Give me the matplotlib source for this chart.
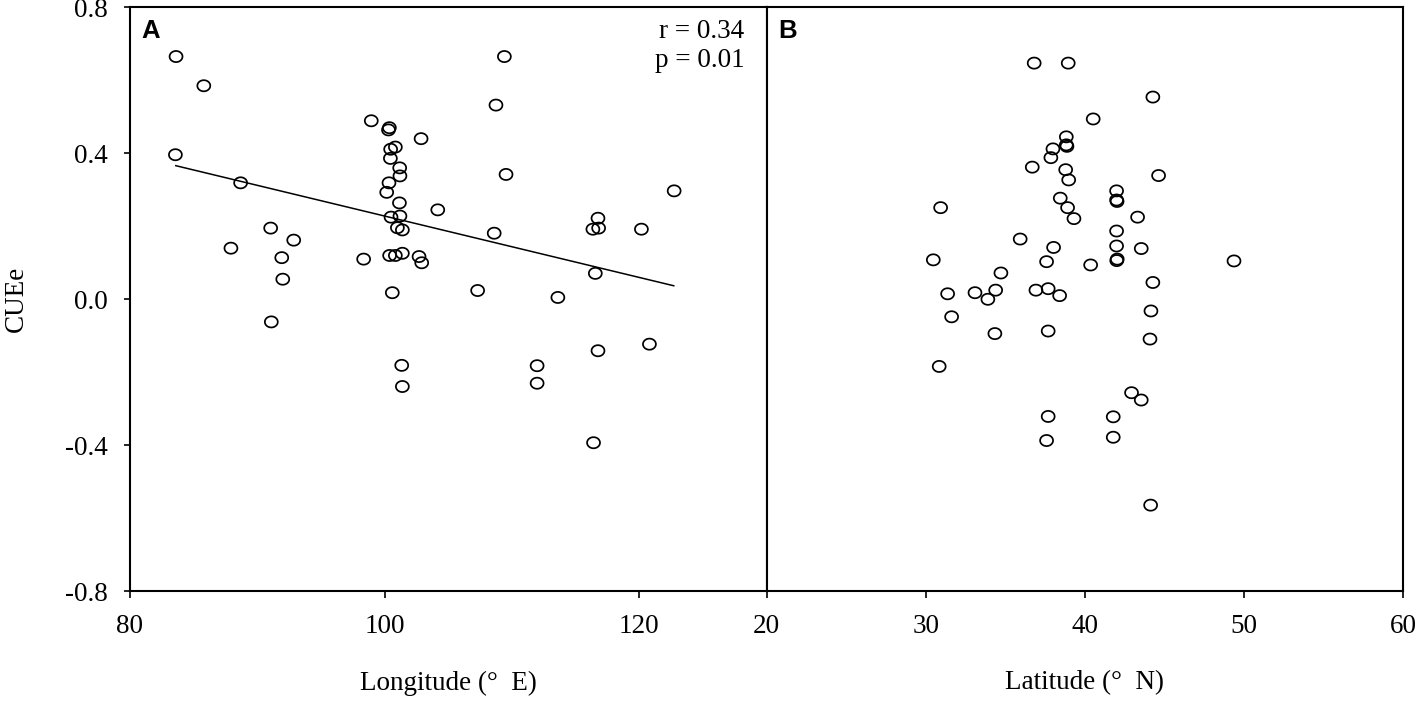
import matplotlib.pyplot as plt
import matplotlib.path as mpath
import numpy as np

# panel A: longitude vs CUEe
lon = [83.62, 85.8, 83.57, 98.95, 100.37, 100.30, 102.86, 100.84, 100.47, 100.45,
       101.18, 101.2, 88.69, 100.34, 100.16, 101.16, 104.17, 100.5, 101.2, 101.0,
       101.39, 91.05, 92.86, 87.93, 91.92, 98.35, 100.39, 100.84, 101.39, 102.7,
       102.91, 92.0, 100.6, 91.1, 101.34, 101.39, 109.4, 108.74, 109.53, 122.73,
       116.75, 116.35, 116.8, 120.16, 108.6, 116.54, 107.3, 113.6, 120.79, 116.75,
       111.97, 111.97, 116.4]
cue_lon = [0.665, 0.585, 0.396, 0.489, 0.470, 0.464, 0.44, 0.417, 0.411, 0.386,
           0.36, 0.338, 0.319, 0.319, 0.293, 0.264, 0.245, 0.225, 0.228, 0.196,
           0.19, 0.195, 0.162, 0.14, 0.114, 0.11, 0.12, 0.12, 0.126, 0.117,
           0.1, 0.055, 0.018, -0.062, -0.181, -0.239, 0.665, 0.532, 0.342, 0.297,
           0.222, 0.192, 0.195, 0.192, 0.181, 0.071, 0.024, 0.005, -0.123, -0.141,
           -0.182, -0.23, -0.393]
fit_lon = [83.6, 122.7]
fit_cue = [0.366, 0.037]

# panel B: latitude vs CUEe
lat = [36.81, 38.95, 44.27, 40.52, 38.83, 38.83, 38.87, 37.99, 37.86, 36.69,
       38.79, 38.98, 44.63, 41.99, 41.99, 42.02, 38.45, 30.93, 38.91, 39.31,
       43.31, 41.99, 35.93, 38.03, 41.99, 43.54, 30.47, 37.59, 42.03, 42.00,
       40.36, 34.72, 44.27, 31.37, 33.09, 34.39, 33.90, 36.92, 37.69, 38.41,
       44.15, 31.62, 34.34, 37.69, 44.09, 30.84, 42.93, 43.54, 37.69, 41.78,
       37.59, 41.78, 44.13, 49.37]
cue_lat = [0.647, 0.647, 0.554, 0.494, 0.445, 0.423, 0.419, 0.412, 0.388, 0.362,
           0.355, 0.327, 0.339, 0.297, 0.272, 0.268, 0.277, 0.251, 0.251, 0.221,
           0.225, 0.187, 0.165, 0.142, 0.146, 0.139, 0.108, 0.103, 0.110, 0.106,
           0.094, 0.072, 0.046, 0.015, 0.018, 0.025, 0.000, 0.025, 0.029, 0.010,
           -0.032, -0.048, -0.094, -0.087, -0.109, -0.184, -0.256, -0.276, -0.321, -0.322,
           -0.387, -0.378, -0.564, 0.105]

plt.rcParams['font.family'] = ['Liberation Serif', 'DejaVu Serif']
fs = 19.5

# slightly wide open ellipse like the original
t = np.linspace(0, 2 * np.pi, 60)
ell = mpath.Path(np.column_stack([np.cos(t), 0.86 * np.sin(t)]), closed=True)

fig = plt.figure(figsize=(14.17, 7.05), dpi=100)
ax1 = fig.add_axes([0.0917, 0.1613, 0.4494, 0.8284])
ax2 = fig.add_axes([0.5411, 0.1613, 0.4491, 0.8284])

for ax in (ax1, ax2):
    for s in ax.spines.values():
        s.set_linewidth(1.5)
    ax.set_ylim(-0.8, 0.8)
    ax.tick_params(axis='x', direction='out', length=5, width=1.2, pad=11, labelsize=fs)

ax1.scatter(lon, cue_lon, marker=ell, s=9.3**2, facecolors='none', edgecolors='black',
            linewidths=1.25, zorder=3)
ax1.plot(fit_lon, fit_cue, color='black', lw=1.1)
ax1.set_xlim(80, 130)
ax1.set_xticks([80, 100, 120])
ax1.set_yticks([-0.8, -0.4, 0.0, 0.4, 0.8])
ax1.set_yticklabels(['-0.8', '-0.4', '0.0', '0.4', '0.8'])
ax1.tick_params(axis='y', direction='out', length=4.5, width=1.2, pad=11.5, labelsize=fs)
ax1.set_xlabel('Longitude (°  E)', fontsize=fs, labelpad=23)
ax1.set_ylabel('CUEe', fontsize=fs, labelpad=26)
ax1.text(0.018, 0.98, 'A', transform=ax1.transAxes, ha='left', va='top',
         family='Liberation Sans', fontweight='bold', fontsize=18.5)
ax1.text(0.965, 0.98, 'r = 0.34\np = 0.01', transform=ax1.transAxes, ha='right', va='top',
         fontsize=fs, linespacing=1.2)

ax2.scatter(lat, cue_lat, marker=ell, s=9.3**2, facecolors='none', edgecolors='black',
            linewidths=1.25, zorder=3)
ax2.set_xlim(20, 60)
ax2.set_xticks([20, 30, 40, 50, 60])
ax2.set_yticks([])
ax2.set_xlabel('Latitude (°  N)', fontsize=fs, labelpad=23)
ax2.text(0.018, 0.98, 'B', transform=ax2.transAxes, ha='left', va='top',
         family='Liberation Sans', fontweight='bold', fontsize=18.5)

fig.savefig('out.png', dpi=100)
